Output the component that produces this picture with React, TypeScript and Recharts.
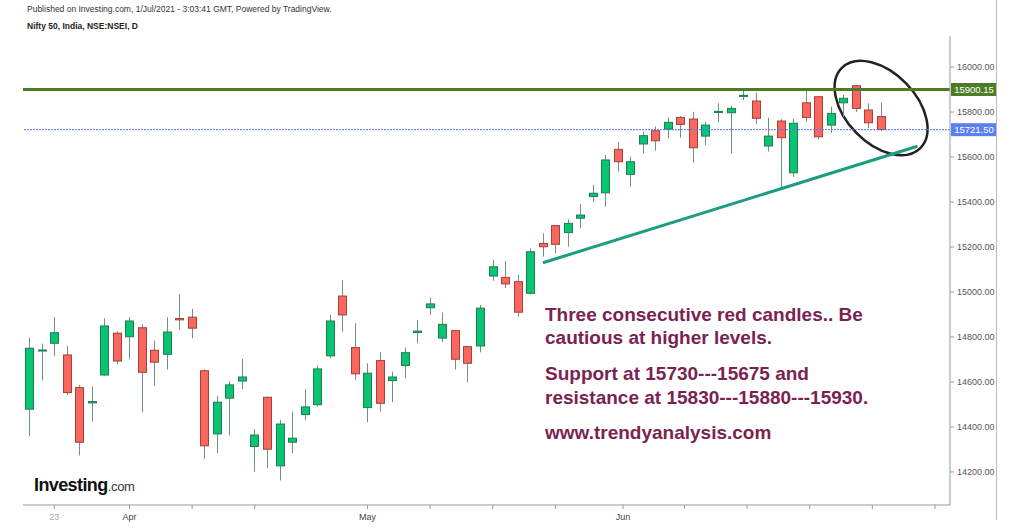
import React from "react";
import {
  ComposedChart,
  Bar,
  XAxis,
  YAxis,
  ReferenceLine,
  ReferenceArea,
} from "recharts";

// trading days shown (Mar 19 .. Jun 30 2021)
const dates = [
  "Mar 19", "Mar 22", "Mar 23", "Mar 24", "Mar 25", "Mar 26", "Mar 30", "Mar 31",
  "Apr 1", "Apr 5", "Apr 6", "Apr 7", "Apr 8", "Apr 9", "Apr 12", "Apr 13", "Apr 15",
  "Apr 16", "Apr 19", "Apr 20", "Apr 22", "Apr 23", "Apr 26", "Apr 27", "Apr 28",
  "Apr 29", "Apr 30",
  "May 3", "May 4", "May 5", "May 6", "May 7", "May 10", "May 11", "May 12", "May 14",
  "May 17", "May 18", "May 19", "May 20", "May 21", "May 24", "May 25", "May 26",
  "May 27", "May 28", "May 31",
  "Jun 1", "Jun 2", "Jun 3", "Jun 4", "Jun 7", "Jun 8", "Jun 9", "Jun 10", "Jun 11",
  "Jun 14", "Jun 15", "Jun 16", "Jun 17", "Jun 18", "Jun 21", "Jun 22", "Jun 23",
  "Jun 24", "Jun 25", "Jun 28", "Jun 29", "Jun 30",
];

const opens = [
  14479, 14740, 14772, 14720, 14575, 14507, 14631, 14817,
  14801, 14841, 14741, 14723, 14882, 14888, 14650, 14369, 14528,
  14604, 14313, 14532, 14227, 14332, 14455, 14499, 14716,
  14982, 14753,
  14486, 14695, 14606, 14673, 14820, 14930, 14795, 14828, 14757,
  14760, 15071, 15065, 15046, 14994, 15216, 15295, 15264,
  15328, 15424, 15441,
  15634, 15523, 15658, 15717, 15724, 15776, 15769, 15693, 15798,
  15797, 15870, 15849, 15649, 15760, 15530, 15841, 15868,
  15742, 15841, 15917, 15809, 15780,
];
const highs = [
  14797, 14770, 14888, 14760, 14587, 14579, 14883, 14825,
  14888, 14856, 14784, 14888, 14990, 14924, 14656, 14538, 14604,
  14702, 14390, 14535, 14431, 14468, 14568, 14673, 14898,
  15053, 14861,
  14683, 14732, 14646, 14753, 14876, 14975, 14908, 14830, 14760,
  14942, 15142, 15138, 15076, 15194, 15261, 15298, 15323,
  15390, 15476, 15609,
  15668, 15601, 15713, 15735, 15776, 15782, 15801, 15757, 15839,
  15827, 15898, 15886, 15775, 15768, 15769, 15898, 15870,
  15824, 15876, 15920, 15839, 15841,
];
const lows = [
  14360, 14606, 14716, 14542, 14273, 14424, 14627, 14679,
  14701, 14465, 14582, 14656, 14831, 14794, 14258, 14283, 14362,
  14568, 14201, 14217, 14162, 14283, 14430, 14490, 14705,
  14824, 14609,
  14421, 14468, 14510, 14616, 14772, 14898, 14777, 14656, 14599,
  14732, 15050, 15017, 14890, 14990, 15157, 15172, 15201,
  15283, 15401, 15379,
  15535, 15468, 15616, 15628, 15683, 15686, 15575, 15653, 15754,
  15616, 15853, 15747, 15624, 15461, 15512, 15757, 15679,
  15708, 15779, 15801, 15728, 15716,
];
const closes = [
  14750, 14742, 14819, 14553, 14332, 14513, 14849, 14693,
  14871, 14643, 14688, 14822, 14876, 14839, 14316, 14510, 14587,
  14622, 14364, 14301, 14413, 14350, 14489, 14658, 14871,
  14898, 14636,
  14639, 14505, 14622, 14730, 14826, 14947, 14856, 14701, 14683,
  14928, 15112, 15036, 14910, 15179, 15201, 15212, 15305,
  15342, 15439, 15587,
  15579, 15579, 15695, 15672, 15754, 15745, 15641, 15742, 15803,
  15816, 15874, 15772, 15693, 15686, 15750, 15776, 15690,
  15794, 15861, 15816, 15752, 15722,
];

// x axis: bar index of each tick and its label
const xTickIdx = [2, 8, 13, 18, 27, 32, 37, 42, 47.4, 52.3, 57.3, 62.3, 67.3, 72.3];
const xTickLabels = ["23", "Apr", "", "", "May", "", "", "", "Jun", "", "", "", "", ""];
const yTicks = [14200, 14400, 14600, 14800, 15000, 15200, 15400, 15600, 15800, 16000];

const resistance = 15900.15;
const lastClose = 15721.5;
// rising support line: [bar index, price]
const trendFrom = [41.0, 15130];
const trendTo = [70.9, 15648];
// circled area around the last candles
const circleX = [64.5, 71.5];
const circleY = [15622, 16014];

const data = dates.map((d, i) => ({
  i,
  date: d,
  open: opens[i],
  high: highs[i],
  low: lows[i],
  close: closes[i],
  range: [lows[i], highs[i]],
}));

const UP = "#08c473";
const UP_EDGE = "#1f7d52";
const DOWN = "#f9685f";
const DOWN_EDGE = "#a8403a";
const WICK = "#74907f";

const Candle = (props: any) => {
  const { x, y, width, height, payload } = props;
  if (!payload) return null;
  const top = Math.min(y, y + height);
  const bottom = Math.max(y, y + height);
  const span = payload.high - payload.low || 1;
  const toY = (v: number) => top + ((payload.high - v) / span) * (bottom - top);
  const cx = Math.round(x + width / 2) + 0.5;
  const up = payload.close >= payload.open;
  const yo = toY(payload.open);
  const yc = toY(payload.close);
  const bTop = Math.min(yo, yc);
  const bH = Math.max(1, Math.abs(yo - yc));
  return (
    <g>
      <line x1={cx} x2={cx} y1={top} y2={bottom} stroke={WICK} strokeWidth={1} />
      <rect
        x={cx - 4}
        y={bTop}
        width={8}
        height={bH}
        fill={up ? UP : DOWN}
        stroke={up ? UP_EDGE : DOWN_EDGE}
        strokeWidth={1}
      />
    </g>
  );
};

const XTick = (props: any) => {
  const { x, y, payload } = props;
  const k = xTickIdx.indexOf(payload.value);
  const label = k >= 0 ? xTickLabels[k] : "";
  if (!label) return null;
  const isMonth = isNaN(Number(label));
  return (
    <text
      x={x}
      y={y}
      dy="0.71em"
      textAnchor="middle"
      fontSize={9}
      fontFamily="Liberation Sans, Arial, sans-serif"
      fill={isMonth ? "#444" : "#aaa"}
    >
      {label}
    </text>
  );
};

const priceTag = (value: number, color: string) => (p: any) => {
  const vb = p.viewBox || {};
  const right = (vb.x || 0) + (vb.width || 0);
  const cy = vb.y || 0;
  return (
    <g>
      <rect x={right + 1} y={cy - 6.5} width={46} height={13} fill={color} />
      <text
        x={right + 24}
        y={cy}
        dy="0.35em"
        textAnchor="middle"
        fontSize={9.5}
        fontFamily="Liberation Sans, Arial, sans-serif"
        fill="#fff"
      >
        {value.toFixed(2)}
      </text>
    </g>
  );
};

const Ellipse = (props: any) => {
  const { x, y, width, height } = props;
  const cx = x + width / 2;
  const cy = y + height / 2;
  return (
    <ellipse
      cx={cx}
      cy={cy}
      rx={width * 0.64}
      ry={width * 0.4}
      transform={`rotate(46 ${cx} ${cy})`}
      fill="none"
      stroke="#222"
      strokeWidth={2.5}
    />
  );
};

const noteStyle: React.CSSProperties = {
  position: "absolute",
  left: 545,
  fontFamily: "Liberation Sans, Arial, sans-serif",
  fontWeight: 700,
  fontSize: 19,
  lineHeight: "23px",
  color: "#7b2350",
  whiteSpace: "nowrap",
};

export default function App() {
  return (
    <div
      style={{
        position: "absolute",
        left: 0,
        top: 0,
        width: 1024,
        height: 532,
        background: "#fff",
        overflow: "hidden",
        fontFamily: "Liberation Sans, Arial, sans-serif",
      }}
    >
      <div style={{ position: "absolute", left: 27, top: 4, fontSize: 8.5, color: "#333" }}>
        Published on Investing.com, 1/Jul/2021 - 3:03:41 GMT, Powered by TradingView.
      </div>
      <div style={{ position: "absolute", left: 27, top: 21, fontSize: 8.5, fontWeight: 700, color: "#222" }}>
        Nifty 50, India, NSE:NSEI, D
      </div>

      <div style={{ position: "absolute", left: 0, top: 0 }}>
        <ComposedChart
          width={1000}
          height={532}
          data={data}
          margin={{ top: 36, right: 0, bottom: 0, left: 23 }}
        >
          <XAxis
            type="number"
            dataKey="i"
            domain={[-0.5, 73.5]}
            ticks={xTickIdx}
            interval={0}
            allowDataOverflow
            height={27}
            tickSize={4}
            tickMargin={5}
            stroke="#999"
            tick={<XTick />}
          />
          <YAxis
            orientation="right"
            type="number"
            domain={[14053, 16138]}
            ticks={yTicks}
            allowDataOverflow
            width={50}
            tickSize={4}
            tickMargin={3}
            stroke="#999"
            tickFormatter={(v: number) => v.toFixed(2)}
            tick={{ fontSize: 9, fill: "#555", fontFamily: "Liberation Sans, Arial, sans-serif" }}
          />
          <ReferenceLine
            y={resistance}
            stroke="#4c7d26"
            strokeWidth={3}
            label={priceTag(resistance, "#4c7d26")}
          />
          <ReferenceLine
            y={lastClose}
            stroke="#4f74f2"
            strokeWidth={1}
            strokeDasharray="2 1"
            label={priceTag(lastClose, "#5b7ff0")}
          />
          <Bar
            dataKey="range"
            barSize={8}
            shape={<Candle />}
            isAnimationActive={false}
          />
          <ReferenceLine
            segment={[
              { x: trendFrom[0], y: trendFrom[1] },
              { x: trendTo[0], y: trendTo[1] },
            ]}
            stroke="#1c9d7e"
            strokeWidth={3}
            ifOverflow="visible"
          />
          <ReferenceArea
            x1={circleX[0]}
            x2={circleX[1]}
            y1={circleY[0]}
            y2={circleY[1]}
            ifOverflow="visible"
            shape={<Ellipse />}
          />
        </ComposedChart>
      </div>

      <div style={{ position: "absolute", left: 996, top: 0, width: 1, height: 520, background: "#bbb" }} />

      <div style={{ ...noteStyle, top: 303 }}>
        Three consecutive red candles.. Be
        <br />
        cautious at higher levels.
      </div>
      <div style={{ ...noteStyle, top: 362, lineHeight: "24px" }}>
        Support at 15730---15675 and
        <br />
        resistance at 15830---15880---15930.
      </div>
      <div style={{ ...noteStyle, top: 421 }}>www.trendyanalysis.com</div>

      <div
        style={{
          position: "absolute",
          left: 34,
          top: 475,
          whiteSpace: "nowrap",
          fontFamily: "Liberation Sans Narrow, Liberation Sans, Arial, sans-serif",
        }}
      >
        <span style={{ fontSize: 18, fontWeight: 700, color: "#111", letterSpacing: -0.6 }}>Investing</span>
        <span style={{ fontSize: 13, color: "#333", letterSpacing: -0.3 }}>.com</span>
      </div>
    </div>
  );
}
